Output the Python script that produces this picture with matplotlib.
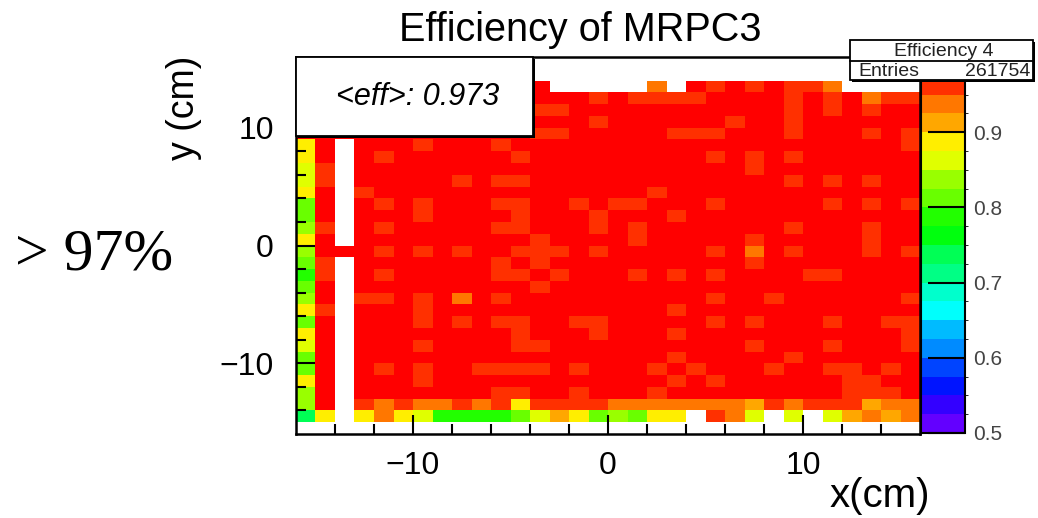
import colorsys
import numpy as np
import matplotlib.pyplot as plt
from matplotlib.colors import ListedColormap, BoundaryNorm
from matplotlib.patches import Rectangle

plt.rcParams['font.family'] = ['Liberation Sans', 'DejaVu Sans']

# efficiency per 1x1 cm bin, one string per row, top row (y = 15..16) first
# R >0.975, r 0.95-0.975, o 0.925-0.95, a 0.90-0.925, y/Y yellow, l/L lime,
# g/G green, t teal, '.' no entries
rows = [
    "................................",
    "................................",
    "RRRRRRRRRRRRR.....o.RrRrRrro....",
    "RRRRRRRRRRRRRRRrRrrrrRRRRrRrRorr",
    "RRRRRRRRRRRRrrRRRRRRRRRRRrRrRrRR",
    "RRRRRRRRRRRRRRRrRRRRRRrRRrRRRRRR",
    "RRRRRRRRRRRRrrRRRRRrrrRRRrRRRrRr",
    "yR.RRRrRRRrRRRRRRRRRRRRRRRRRRRRr",
    "yR.RrRRRRRRrRRRRRRRRRrRrRrRRRRRR",
    "Yr.RRRRRRRRRRRRRRRRRRRRrRRRRRRRR",
    "Yr.RRRRRrRrrRRRRRRRRRRRRRrRrRrRR",
    "yR.rRRRRRRRRRRRRRRrRRRRRRRRRRRRR",
    "LR.RrRrRRRrrRRrRrrRRRrRRRRRrRrRr",
    "LR.RRRrRRRRrRRRrRRRrRRRRRRRRRRRR",
    "lr.RrRRRRRrrRRRrRrRRRRRRRrRRRrRR",
    "yR.RRRRRRRRRrRRRRrRRRRRrRRRRRrRR",
    "lRRRrRrRrRRrrrRrRRRRRrRoRrRRRrRr",
    "Lr.RRRRRRRrRrRRRRRRRRRRrRRRRRRRR",
    "gr.RrRRRRRrrRrRRRrRrRrRRRRrrRRRR",
    "LR.RRRRRRRRRrRRRRRRRRRRRRRRRRRRR",
    "lR.rrRrRoRrRRRRRRRRRRrRRrRRRRRRr",
    "yr.RRRrRRRRRRRRRRRRrRRRRRRRRRRRR",
    "LR.RRRrRrRrrRRrrRRRRRrRrRRRrRRrr",
    "yR.RRRRRRRRrRRRrRRRrRRRRRRRRRRRr",
    "YR.RRRrRRRRrrRRRRRRRRRRrRRRrRRRr",
    "LR.RRRRRRRRRRRRRRRRrRRRRRrRRRRRR",
    "LR.RrRrRRrrrrRrRRRrRrRRRrRRrrRrR",
    "yR.RRRrRRRRRRRRRRRRrRrRRRRRRrrRR",
    "lR.RRRRRRRrrRRrRRRrRRRRRRRRRrrrR",
    "lR.roroororyrrrroooooooarorrraoo",
    "ty.yoyYggggLYayLlLyy.roY.Y.Yaoao",
    "................................",
]
codes = {'R': 0.985, 'r': 0.962, 'o': 0.938, 'a': 0.912, 'y': 0.888,
         'Y': 0.862, 'l': 0.838, 'L': 0.812, 'g': 0.788, 'G': 0.762,
         't': 0.738, '.': np.nan}
x_edges = np.arange(-16, 17)
y_edges = np.arange(-16, 17)
mean_eff = 0.973
hist_name = "Efficiency 4"
entries = 261754

eff = np.array([[codes[c] for c in row] for row in rows[::-1]])

# ROOT "pretty" palette (violet -> red), 20 contour levels between 0.5 and 1
pretty = [colorsys.hls_to_rgb((280 - (i + 1) * 5.6) / 360, 0.5, 1.0) for i in range(50)]
levels = np.linspace(0.5, 1.0, 21)
cmap = ListedColormap([pretty[int((k + 0.99) * 50 / 20)] for k in range(20)])
norm = BoundaryNorm(levels, cmap.N)

W, H = 1038, 518
fig = plt.figure(figsize=(W / 100, H / 100), dpi=100)
ax = fig.add_axes([296 / W, 1 - 434 / H, 624 / W, 377 / H])
cax = fig.add_axes([921 / W, 1 - 433 / H, 44 / W, 376 / H])

mesh = ax.pcolormesh(x_edges, y_edges, np.ma.masked_invalid(eff), cmap=cmap, norm=norm)
ax.set_xlim(-16, 16)
ax.set_ylim(-16, 16)
ax.set_xticks([-10, 0, 10])
ax.set_yticks([-10, 0, 10])
ax.set_xticks(np.arange(-14, 15, 2), minor=True)
ax.set_yticks(np.arange(-14, 15, 2), minor=True)
ax.tick_params(which='both', direction='in', width=1.5, top=False, right=False,
               labelsize=23)
ax.tick_params(which='major', length=14)
ax.tick_params(which='minor', length=7)
ax.tick_params(axis='x', pad=12)
ax.tick_params(axis='y', pad=16)
for s in ax.spines.values():
    s.set_linewidth(1.8)
fig.text(580 / W, 1 - 30 / H, "Efficiency of MRPC3", ha='center', va='center',
         fontsize=28.5)

cb = fig.colorbar(mesh, cax=cax, ticks=[0.5, 0.6, 0.7, 0.8, 0.9])
cb.ax.tick_params(direction='in', length=27, width=1.5, labelsize=15,
                  labelcolor='#444444', pad=6)
cb.ax.set_yticklabels(['0.5', '0.6', '0.7', '0.8', '0.9'])
cb.outline.set_linewidth(1.5)

fig.text(930 / W, 1 - 496 / H, "x(cm)", ha='right', va='center', fontsize=29)
fig.text(184 / W, 1 - 108 / H, "y (cm)", ha='center', va='center',
         rotation=90, fontsize=27)


def pave(x0, y0, x1, y1):
    # white box with a dark shadow, coordinates in pixels from top-left
    fig.add_artist(Rectangle((x0 / W + 2 / W, 1 - y1 / H - 2 / H), (x1 - x0) / W,
                             (y1 - y0) / H, transform=fig.transFigure,
                             facecolor='black', edgecolor='none', zorder=5))
    fig.add_artist(Rectangle((x0 / W, 1 - y1 / H), (x1 - x0) / W, (y1 - y0) / H,
                             transform=fig.transFigure, facecolor='white',
                             edgecolor='black', linewidth=1.3, zorder=6))


pave(296, 57, 533, 136)
fig.text(418 / W, 1 - 97 / H, "<eff>: %.3f" % mean_eff, ha='center', va='center',
         fontsize=22, style='italic', zorder=7)

pave(850, 40, 1033, 80)
fig.add_artist(plt.Line2D([850 / W, 1033 / W], [1 - 61 / H, 1 - 61 / H],
                          transform=fig.transFigure, color='black', lw=1.3, zorder=7))
fig.text(944 / W, 1 - 51 / H, hist_name, ha='center', va='center', fontsize=14,
         color='#222222', zorder=7)
fig.text(858 / W, 1 - 71 / H, "Entries", ha='left', va='center', fontsize=14,
         color='#222222', zorder=7)
fig.text(1030 / W, 1 - 71 / H, str(entries), ha='right', va='center', fontsize=14,
         color='#222222', zorder=7)

fig.text(15 / W, 1 - 255 / H, "> 97%", ha='left', va='center', fontsize=43,
         family='Liberation Serif')

fig.savefig("out.png", dpi=100)
